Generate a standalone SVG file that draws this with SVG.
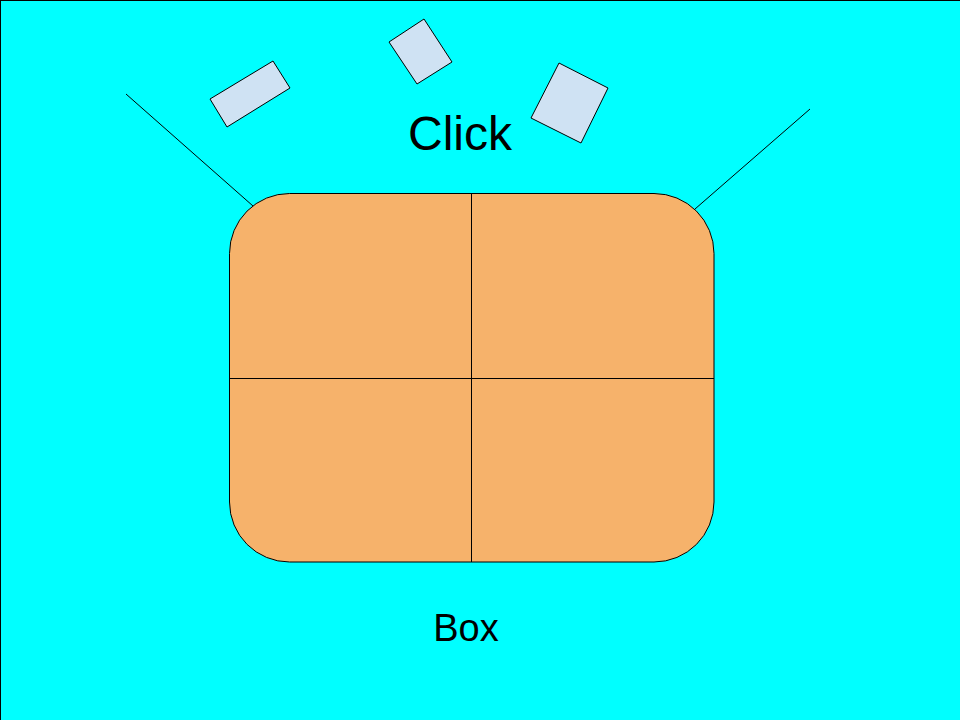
<svg xmlns="http://www.w3.org/2000/svg" width="960" height="720" viewBox="0 0 960 720">
<style>
.card{fill:#cfe2f3;stroke:#000;stroke-width:1}
.ln{stroke:#000;stroke-width:1;fill:none}
.t{font-family:"Liberation Sans",Arial,sans-serif;fill:#000;text-anchor:middle}
</style>
<rect x="0.5" y="0.5" width="960" height="720" fill="#00ffff" stroke="#000" stroke-width="1"/>
<g id="connectors">
<line class="ln" x1="126" y1="94" x2="253" y2="206"/>
<line class="ln" x1="810" y1="109" x2="695" y2="209"/>
</g>
<g id="cards">
<polygon id="card1" class="card" points="210,99 273,61 290,88 227,127"/>
<polygon id="card2" class="card" points="389,42 424,19 452,62 417,84"/>
<polygon id="card3" class="card" points="559,63 608,88 581,143 531,118"/>
</g>
<g id="box">
<rect x="229.5" y="193.5" width="484.5" height="368.5" rx="60" ry="60" fill="#f6b26b" stroke="#000" stroke-width="1"/>
<line class="ln" x1="471.5" y1="193.5" x2="471.5" y2="562"/>
<line class="ln" x1="229.5" y1="378.5" x2="714" y2="378.5"/>
</g>
<text id="click" class="t" x="460" y="150" font-size="48">Click</text>
<text id="boxlabel" class="t" x="466" y="641" font-size="38">Box</text>
</svg>
